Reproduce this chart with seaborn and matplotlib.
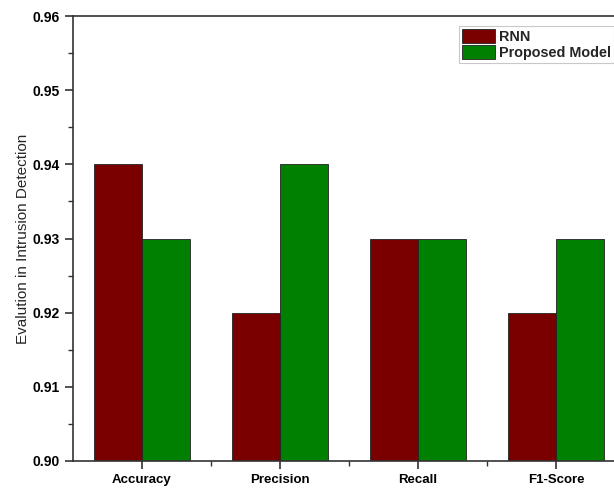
import matplotlib
matplotlib.use("Agg")
import matplotlib.pyplot as plt
from matplotlib.ticker import MultipleLocator
import seaborn as sns
import pandas as pd

metrics = ["Accuracy", "Precision", "Recall", "F1-Score"]
rnn_scores = [0.94, 0.92, 0.93, 0.92]
proposed_scores = [0.93, 0.94, 0.93, 0.93]
model_names = ["RNN", "Proposed Model"]
y_ticks = [0.90, 0.91, 0.92, 0.93, 0.94, 0.95, 0.96]

df = pd.DataFrame({
    "Metric": metrics * 2,
    "Score": rnn_scores + proposed_scores,
    "Model": [model_names[0]] * len(metrics) + [model_names[1]] * len(metrics),
})

sns.set_style("ticks")
plt.rcParams["font.family"] = ["Liberation Sans", "DejaVu Sans"]

fig = plt.figure(figsize=(6.14, 4.93), dpi=100)
ax = fig.add_axes([73 / 614, 32 / 493, 552 / 614, 445 / 493])

sns.barplot(
    data=df, x="Metric", y="Score", hue="Model", ax=ax,
    palette=["#7a0000", "#008000"], width=0.7, gap=0,
    edgecolor="#222222", linewidth=0.6, saturation=1,
)

ax.set_xlim(-0.5, 3.5)
ax.set_ylim(0.90, 0.96)
ax.set_yticks(y_ticks)
ax.set_yticklabels([f"{t:.2f}" for t in y_ticks])
ax.yaxis.set_minor_locator(MultipleLocator(0.005))
ax.set_xticks(range(len(metrics)))
ax.set_xticks([0.5, 1.5, 2.5], minor=True)

for s in ax.spines.values():
    s.set_linewidth(1.2)
    s.set_color("#333333")

ax.tick_params(axis="both", which="major", length=6, width=1.2, colors="#333333",
               labelcolor="black")
ax.tick_params(axis="both", which="minor", length=3.5, width=1.0, colors="#333333")
for lbl in ax.get_yticklabels():
    lbl.set_fontweight("bold")
    lbl.set_fontsize(10)
for lbl in ax.get_xticklabels():
    lbl.set_fontweight("bold")
    lbl.set_fontsize(9.5)

ax.set_xlabel("")
ax.set_ylabel("Evalution in Intrusion Detection", fontsize=11, labelpad=2)

leg = ax.legend(
    loc="upper left", frameon=True, fancybox=False,
    prop={"weight": "bold", "size": 10.4}, handlelength=2.3, handleheight=1.15,
    handletextpad=0.3, borderpad=0.2, labelspacing=0.05, borderaxespad=0,
)
leg.set_bbox_to_anchor((459 / 614, 467 / 493), transform=fig.transFigure)
leg.get_frame().set_edgecolor("#bbbbbb")
leg.get_frame().set_linewidth(0.8)

fig.savefig("out.png", dpi=100)
